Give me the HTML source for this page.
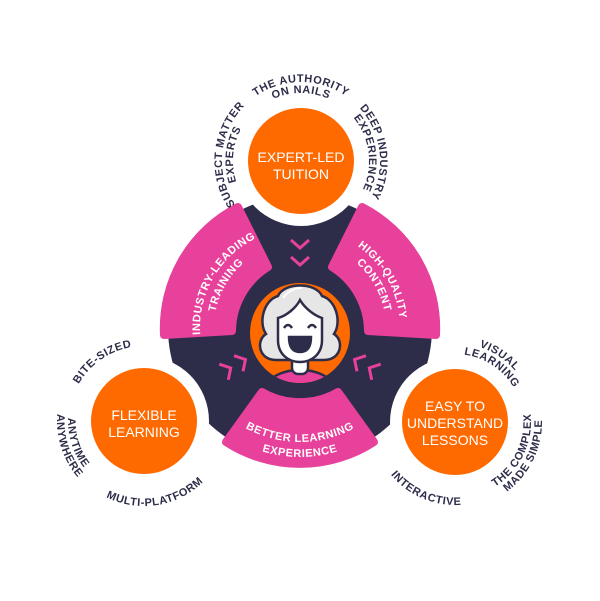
<!DOCTYPE html>
<html><head><meta charset="utf-8"><style>
html,body{margin:0;padding:0;background:#fff;}
svg{display:block;}
.o{font-family:"Liberation Sans",sans-serif;font-weight:bold;font-size:11px;fill:#2d2d4a;letter-spacing:0.6px;}
.p{font-family:"Liberation Sans",sans-serif;font-weight:bold;font-size:11px;fill:#fff;letter-spacing:0.6px;}
.c{font-family:"Liberation Sans",sans-serif;font-size:14px;fill:#fff;text-anchor:middle;}
</style></head><body>
<svg width="600" height="601" viewBox="0 0 600 601" xmlns="http://www.w3.org/2000/svg">
<defs>
<!-- pink sector text arcs -->
<path id="b1" d="M201.3,385 A114,114 0 0 0 398.7,385"/>
<path id="b2" d="M188.3,392.5 A129,129 0 0 0 411.7,392.5"/>
<path id="l1" d="M213.4,378 A100,100 0 0 1 300,228"/>
<path id="l2" d="M225.5,371 A86,86 0 0 1 300,242"/>
<path id="r1" d="M300,228 A100,100 0 0 1 386.6,378"/>
<path id="r2" d="M300,242 A86,86 0 0 1 374.5,371"/>
<!-- top circle (301,161) cw from bottom -->
<path id="t79" d="M301,240 A79,79 0 0 1 301,82 A79,79 0 0 1 301,240"/>
<path id="t68" d="M301,229 A68,68 0 0 1 301,93 A68,68 0 0 1 301,229"/>
<!-- left circle (144,421) -->
<path id="lcw" d="M144,496 A75,75 0 0 1 144,346 A75,75 0 0 1 144,496"/>
<path id="la76" d="M144,345 A76,76 0 0 0 144,497 A76,76 0 0 0 144,345"/>
<path id="la87" d="M144,334 A87,87 0 0 0 144,508 A87,87 0 0 0 144,334"/>
<path id="la85" d="M144,336 A85,85 0 0 0 144,506 A85,85 0 0 0 144,336"/>
<!-- right circle (455,422) -->
<path id="rc79" d="M455,501 A79,79 0 0 1 455,343 A79,79 0 0 1 455,501"/>
<path id="rc68" d="M455,490 A68,68 0 0 1 455,354 A68,68 0 0 1 455,490"/>
<path id="ra76" d="M455,346 A76,76 0 0 0 455,498 A76,76 0 0 0 455,346"/>
<path id="ra87" d="M455,335 A87,87 0 0 0 455,509 A87,87 0 0 0 455,335"/>
<path id="ra83" d="M455,339 A83,83 0 0 0 455,505 A83,83 0 0 0 455,339"/>
<clipPath id="fc"><circle cx="300" cy="333" r="50"/></clipPath>
</defs>

<!-- dark base -->
<circle cx="300" cy="328" r="132" fill="#2d2d4a"/>
<circle cx="301" cy="161" r="65" fill="#fff"/>
<circle cx="144" cy="421" r="65" fill="#fff"/>
<circle cx="455" cy="422" r="65" fill="#fff"/>

<!-- pink sectors -->
<g fill="#e8419b" stroke="#e8419b" stroke-width="8" stroke-linejoin="round">
<path d="M374,442 A136,136 0 0 1 226,442 L262,392 A76,76 0 0 0 338,392Z"/>
<path d="M164,335 A136,136 0 0 1 238,207 L268,267 A76,76 0 0 0 232,331Z"/>
<path d="M362,207 A136,136 0 0 1 436,335 L368,331 A76,76 0 0 0 332,267Z"/>
</g>

<!-- chevrons -->
<g fill="none" stroke="#e8419b" stroke-width="3">
<polyline points="291,240 300,248 309,240"/>
<polyline points="291,257 300,265 309,257"/>
<g transform="rotate(120 300 328)">
<polyline points="291,240 300,248 309,240"/>
<polyline points="291,257 300,265 309,257"/>
</g>
<g transform="rotate(240 300 328)">
<polyline points="291,240 300,248 309,240"/>
<polyline points="291,257 300,265 309,257"/>
</g>
</g>

<!-- orange circles -->
<circle cx="301" cy="161" r="53" fill="#ff6a00"/>
<circle cx="144" cy="421" r="53" fill="#ff6a00"/>
<circle cx="455" cy="422" r="53" fill="#ff6a00"/>
<text class="c" x="301" y="162">EXPERT-LED</text>
<text class="c" x="301" y="179">TUITION</text>
<text class="c" x="144" y="420">FLEXIBLE</text>
<text class="c" x="144" y="437">LEARNING</text>
<text class="c" x="455" y="411">EASY TO</text>
<text class="c" x="455" y="428">UNDERSTAND</text>
<text class="c" x="455" y="445">LESSONS</text>

<!-- face -->
<circle cx="300" cy="333" r="50" fill="#ff6a00"/>
<g clip-path="url(#fc)" stroke="#2d2d4a" stroke-width="2.5">
<ellipse cx="300" cy="392" rx="36" ry="22" fill="#e8419b"/>
<rect x="292" y="350" width="16" height="24" rx="6" fill="#fff"/>
<path d="M276,360 C258,360 256,340 266,334 C258,322 264,300 278,296 C284,282 316,282 322,296 C336,300 342,322 334,334 C344,340 342,360 324,360 Z" fill="#e6e6e6"/>
<path d="M278,318 C286,316 296,308 300,300 C306,310 316,316 322,318 L322,340 C322,354 312,362 300,362 C288,362 278,354 278,340 Z" fill="#fff"/>
<path d="M284,328 Q288,322 292,328" fill="none"/>
<path d="M308,328 Q312,322 316,328" fill="none"/>
<path d="M289,337 L311,337 Q311,352 300,352 Q289,352 289,337Z" fill="#2d2d4a"/>
<path d="M283,298 Q290,288 302,288" fill="none" stroke="#fff" stroke-width="2"/>
</g>

<!-- pink sector labels -->
<text class="p" text-anchor="middle"><textPath href="#b1" startOffset="50%">BETTER LEARNING</textPath></text>
<text class="p" text-anchor="middle"><textPath href="#b2" startOffset="50%">EXPERIENCE</textPath></text>
<text class="p" text-anchor="middle"><textPath href="#l1" startOffset="50%">INDUSTRY-LEADING</textPath></text>
<text class="p" text-anchor="middle"><textPath href="#l2" startOffset="50%">TRAINING</textPath></text>
<text class="p" text-anchor="middle"><textPath href="#r1" startOffset="50%">HIGH-QUALITY</textPath></text>
<text class="p" text-anchor="middle"><textPath href="#r2" startOffset="50%">CONTENT</textPath></text>

<!-- outer labels -->
<text class="o" text-anchor="middle"><textPath href="#t79" startOffset="50%">THE AUTHORITY</textPath></text>
<text class="o" text-anchor="middle"><textPath href="#t68" startOffset="50%">ON NAILS</textPath></text>
<text class="o" text-anchor="middle"><textPath href="#t79" startOffset="26.5%">SUBJECT MATTER</textPath></text>
<text class="o" text-anchor="middle"><textPath href="#t68" startOffset="26.5%">EXPERTS</textPath></text>
<text class="o" text-anchor="middle"><textPath href="#t79" startOffset="73%">DEEP INDUSTRY</textPath></text>
<text class="o" text-anchor="middle"><textPath href="#t68" startOffset="73%">EXPERIENCE</textPath></text>

<text class="o" text-anchor="middle"><textPath href="#lcw" startOffset="40.3%">BITE-SIZED</textPath></text>
<text class="o" text-anchor="middle"><textPath href="#la76" startOffset="30%">ANYTIME</textPath></text>
<text class="o" text-anchor="middle"><textPath href="#la87" startOffset="30%">ANYWHERE</textPath></text>
<text class="o" text-anchor="middle"><textPath href="#la85" startOffset="52.5%">MULTI-PLATFORM</textPath></text>

<text class="o" text-anchor="middle"><textPath href="#rc79" startOffset="59.4%">VISUAL</textPath></text>
<text class="o" text-anchor="middle"><textPath href="#rc68" startOffset="59.4%">LEARNING</textPath></text>
<text class="o" text-anchor="middle"><textPath href="#ra76" startOffset="67.8%">THE COMPLEX</textPath></text>
<text class="o" text-anchor="middle"><textPath href="#ra87" startOffset="67.8%">MADE SIMPLE</textPath></text>
<text class="o" text-anchor="middle"><textPath href="#ra83" startOffset="43.6%">INTERACTIVE</textPath></text>
</svg>
</body></html>
